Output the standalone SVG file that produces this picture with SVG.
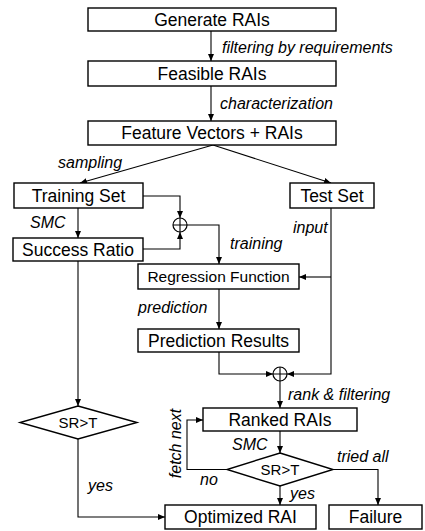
<svg xmlns="http://www.w3.org/2000/svg" width="425" height="531" viewBox="0 0 425 531">
<style>
.box{fill:#fff;stroke:#000;stroke-width:1.4}
.t{font-family:"Liberation Sans",Arial,sans-serif;font-size:17.5px;fill:#000;text-anchor:middle}
.s{font-size:15.5px}
.lb{font-family:"Liberation Sans",Arial,sans-serif;font-size:16px;font-style:italic;fill:#000}
.c{fill:none;stroke:#000;stroke-width:1.1}
</style>
<defs>
<marker id="ah" markerWidth="8" markerHeight="8" refX="7" refY="4" orient="auto" markerUnits="userSpaceOnUse">
<path d="M0,1 L7,4 L0,7 Z" fill="#000"/>
</marker>
</defs>
<rect width="425" height="531" fill="#fff"/>

<g id="connectors">
<path class="c" d="M211,31 V61" marker-end="url(#ah)"/>
<path class="c" d="M211,86 V121" marker-end="url(#ah)"/>
<path class="c" d="M213,145 L80,183" marker-end="url(#ah)"/>
<path class="c" d="M213,145 L331,183" marker-end="url(#ah)"/>
<path class="c" d="M78,208 V238" marker-end="url(#ah)"/>
<path class="c" d="M143,196 H180 V218" marker-end="url(#ah)"/>
<path class="c" d="M143,249 H180 V232" marker-end="url(#ah)"/>
<path class="c" d="M187,225 H219 V264" marker-end="url(#ah)"/>
<path class="c" d="M331,208 V374 H287" marker-end="url(#ah)"/>
<path class="c" d="M331,277 H299" marker-end="url(#ah)"/>
<path class="c" d="M219,289 V329" marker-end="url(#ah)"/>
<path class="c" d="M219,352 V374 H273" marker-end="url(#ah)"/>
<path class="c" d="M280,381 V408" marker-end="url(#ah)"/>
<path class="c" d="M280,431 V453" marker-end="url(#ah)"/>
<path class="c" d="M227,469.5 H187 V420 H203" marker-end="url(#ah)"/>
<path class="c" d="M280,486 V505" marker-end="url(#ah)"/>
<path class="c" d="M333,469.5 H378 V505" marker-end="url(#ah)"/>
<path class="c" d="M78,261 V406" marker-end="url(#ah)"/>
<path class="c" d="M78,439 V517 H165" marker-end="url(#ah)"/>
<g id="sum1"><circle cx="180" cy="225" r="7" fill="#fff" stroke="#000" stroke-width="1.2"/><path class="c" d="M173,225 H187 M180,218 V232"/></g>
<g id="sum2"><circle cx="280" cy="374" r="7" fill="#fff" stroke="#000" stroke-width="1.2"/><path class="c" d="M273,374 H287 M280,367 V381"/></g>
</g>

<g id="labels">
<text class="lb" x="222" y="53">filtering by requirements</text>
<text class="lb" x="220" y="109">characterization</text>
<text class="lb" x="58" y="168">sampling</text>
<text class="lb" x="30" y="228">SMC</text>
<text class="lb" x="293" y="233">input</text>
<text class="lb" x="230" y="249">training</text>
<text class="lb" x="138" y="313">prediction</text>
<text class="lb" x="288" y="400">rank &amp; filtering</text>
<text class="lb" x="232" y="450">SMC</text>
<text class="lb" x="337" y="462">tried all</text>
<text class="lb" x="200" y="485">no</text>
<text class="lb" x="290" y="499">yes</text>
<text class="lb" x="88" y="491">yes</text>
<text class="lb" transform="translate(181,443.5) rotate(-90)" text-anchor="middle">fetch next</text>
</g>

<g id="generate"><rect class="box" x="88" y="8" width="248" height="23"/><text class="t" x="212" y="26">Generate RAIs</text></g>
<g id="feasible"><rect class="box" x="88" y="61" width="248" height="25"/><text class="t" x="212" y="80">Feasible RAIs</text></g>
<g id="features"><rect class="box" x="88" y="121" width="248" height="24"/><text class="t" x="212" y="139">Feature Vectors + RAIs</text></g>
<g id="training"><rect class="box" x="14" y="183" width="129" height="25"/><text class="t" x="78.5" y="202">Training Set</text></g>
<g id="test"><rect class="box" x="290" y="183" width="84" height="25"/><text class="t" x="332" y="202">Test Set</text></g>
<g id="success"><rect class="box" x="13" y="238" width="130" height="23"/><text class="t" x="78" y="256">Success Ratio</text></g>
<g id="regression"><rect class="box" x="138" y="264" width="161" height="25"/><text class="t s" x="218.5" y="282">Regression Function</text></g>
<g id="prediction"><rect class="box" x="138" y="329" width="161" height="23"/><text class="t" x="218.5" y="347">Prediction Results</text></g>
<g id="ranked"><rect class="box" x="203" y="408" width="154" height="23"/><text class="t" x="280" y="426">Ranked RAIs</text></g>
<g id="check1"><path class="box" d="M78,406 L137,422.5 L78,439 L20,422.5 Z"/><text class="t" style="font-size:15px" x="78" y="428">SR&gt;T</text></g>
<g id="check2"><path class="box" d="M280,453 L333,469.5 L280,486 L227,469.5 Z"/><text class="t" style="font-size:15px" x="280" y="475">SR&gt;T</text></g>
<g id="optimized"><rect class="box" x="165" y="505" width="151" height="24"/><text class="t" x="240.5" y="523">Optimized RAI</text></g>
<g id="failure"><rect class="box" x="329" y="505" width="93" height="24"/><text class="t" x="375.5" y="523">Failure</text></g>
</svg>
